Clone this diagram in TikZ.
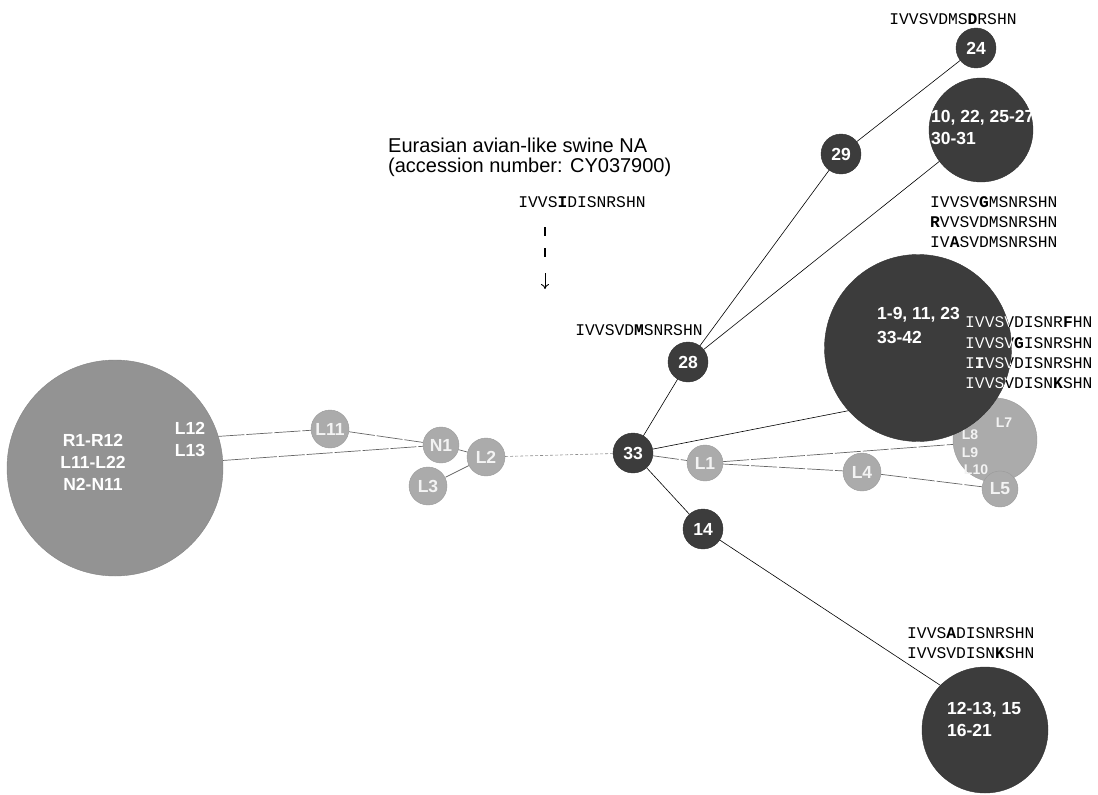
\documentclass[tikz,border=0pt]{standalone}
\usepackage{fontspec}
\setmainfont{Liberation Sans}
\newfontfamily\seqfont{Liberation Mono}
\usetikzlibrary{arrows.meta}
\definecolor{dk}{HTML}{3C3C3C}
\definecolor{lt}{HTML}{ABABAB}
\definecolor{bg}{HTML}{939393}
\begin{document}
\begin{tikzpicture}[x=1pt,y=-1pt,
  hap/.style={circle,inner sep=0pt,minimum size=#1,text=white,font=\bfseries\fontsize{17.5}{20}\selectfont},
  dkn/.style={hap=#1,fill=dk,draw=dk!85!black},
  ltn/.style={hap=#1,fill=lt,draw=lt!90!black,text=white!85!lt},
  wlab/.style={text=white,font=\bfseries\fontsize{17.5}{22}\selectfont,inner sep=0pt,align=left},
  slab/.style={text=white!85!lt,font=\bfseries\fontsize{14}{16}\selectfont,inner sep=0pt},
  seq/.style={font=\seqfont\fontsize{16.3}{20}\selectfont,inner sep=0pt},
  ttl/.style={font=\fontsize{20}{22}\selectfont,inner sep=0pt,anchor=west},
  edge/.style={line width=0.6pt,black},
  ledge/.style={line width=0.7pt,black!60,dash pattern=on 26pt off 2pt},
  dedge/.style={line width=0.6pt,black!45,dash pattern=on 3pt off 2pt},
]
\useasboundingbox (0,0) rectangle (1098,795);

% ---------- nodes ----------
\node[hap=216,fill=bg,draw=bg!90!black] (R) at (115,468) {};
\node[wlab,align=center] (rlab) at (93,462) {R1-R12\\L11-L22\\N2-N11};
\node[wlab,align=center] (l1213) at (190,439) {L12\\L13};

\node[ltn=38] (L11) at (330,429) {L11};
\node[ltn=36] (N1) at (441,445) {N1};
\node[ltn=38] (L2) at (486,457) {L2};
\node[ltn=38] (L3) at (428,486) {L3};

\node[dkn=40] (n33) at (633,453) {33};
\node[dkn=40] (n28) at (688,362) {28};
\node[dkn=40] (n29) at (841,154) {29};
\node[dkn=40] (n24) at (976,48) {24};
\node[dkn=104] (c10) at (981,130) {};
\node[wlab,anchor=west] (c10lab) at (931,127) {10, 22, 25-27\\30-31};

\node[ltn=84] (L7) at (995,440) {};
\node[ltn=36] (L5) at (1000,489) {L5};
\node[slab] (l7lab) at (1004,423) {L7};
\node[slab] (l8lab) at (970,435) {L8};
\node[slab] (l9lab) at (970,453) {L9};
\node[slab] (l10lab) at (976,470) {L10};

\node[dkn=187] (big) at (918,348) {};
\node[wlab,anchor=west,font=\bfseries\fontsize{17.5}{24}\selectfont] (biglab) at (877,325) {1-9, 11, 23\\33-42};

\node[ltn=36] (L1) at (705,463) {L1};
\node[ltn=38] (L4) at (862,472) {L4};
\node[dkn=40] (n14) at (703,529) {14};
\node[dkn=126] (c12) at (985,730) {};
\node[wlab,anchor=west] (c12lab) at (947,719) {12-13, 15\\16-21};

% ---------- texts ----------
\node[ttl] (t1) at (388,145) {Eurasian avian-like swine NA};
\node[ttl] (t2) at (388,167) {(accession number: CY037900)};
\node[seq] (sEA) at (582,202) {IVVS\textbf{I}DISNRSHN};
\node[seq] (s28) at (639,330) {IVVSVD\textbf{M}SNRSHN};
\node[seq] (s24) at (953,19) {IVVSVDMS\textbf{D}RSHN};
\node[seq,anchor=west] (sc1) at (930,202) {IVVSV\textbf{G}MSNRSHN};
\node[seq,anchor=west] (sc2) at (930,222) {\textbf{R}VVSVDMSNRSHN};
\node[seq,anchor=west] (sc3) at (930,242) {IV\textbf{A}SVDMSNRSHN};
\node[seq,anchor=west] (sb1) at (965,322) {IVVSVDISNR\textbf{F}HN};
\node[seq,anchor=west] (sb2) at (965,343) {IVVSV\textbf{G}ISNRSHN};
\node[seq,anchor=west] (sb3) at (965,363) {I\textbf{I}VSVDISNRSHN};
\node[seq,anchor=west] (sb4) at (965,383) {IVVSVDISN\textbf{K}SHN};
\begin{scope}
  \clip (big.center) circle[radius=93.5pt];
  \node[seq,anchor=west,text=white] (wb1) at (965,322) {IVVSVDISNR\textbf{F}HN};
  \node[seq,anchor=west,text=white] (wb2) at (965,343) {IVVSV\textbf{G}ISNRSHN};
  \node[seq,anchor=west,text=white] (wb3) at (965,363) {I\textbf{I}VSVDISNRSHN};
  \node[seq,anchor=west,text=white] (wb4) at (965,383) {IVVSVDISN\textbf{K}SHN};
\end{scope}
\node[seq,anchor=west] (sd1) at (907,633) {IVVS\textbf{A}DISNRSHN};
\node[seq,anchor=west] (sd2) at (907,653) {IVVSVDISN\textbf{K}SHN};

% ---------- arrow ----------
\coordinate (a1) at (545,227);
\coordinate (a2) at (545,263);
\coordinate (a3) at (545,273);
\coordinate (a4) at (545,289);
\draw[line width=2.2pt,dash pattern=on 9pt off 12pt] (a1) -- (a2);
\draw[line width=0.9pt,-{To[length=5pt,width=8pt]}] (a3) -- (a4);

% ---------- connectors ----------
\draw[ledge] (R.17) -- (L11);
\draw[ledge] (L11) -- (N1);
\draw[ledge] (R.4) -- (N1);
\draw[ledge] (N1) -- (L2);
\draw[ledge] (L2) -- (L3);
\draw[dedge] (L2) -- (n33);
\draw[edge] (n33) -- (n28);
\draw[edge] (n28) -- (n29);
\draw[edge] (n29) -- (n24);
\draw[edge] (n28) -- (c10.217);
\draw[edge] (n33) -- (big.222);
\draw[ledge] (n33) -- (L1);
\draw[ledge] (L1) -- (L7.186);
\draw[ledge] (L1) -- (L4);
\draw[ledge] (L4) -- (L5);
\draw[edge] (n33) -- (n14);
\draw[edge] (n14) -- (c12.135);
\end{tikzpicture}
\end{document}
